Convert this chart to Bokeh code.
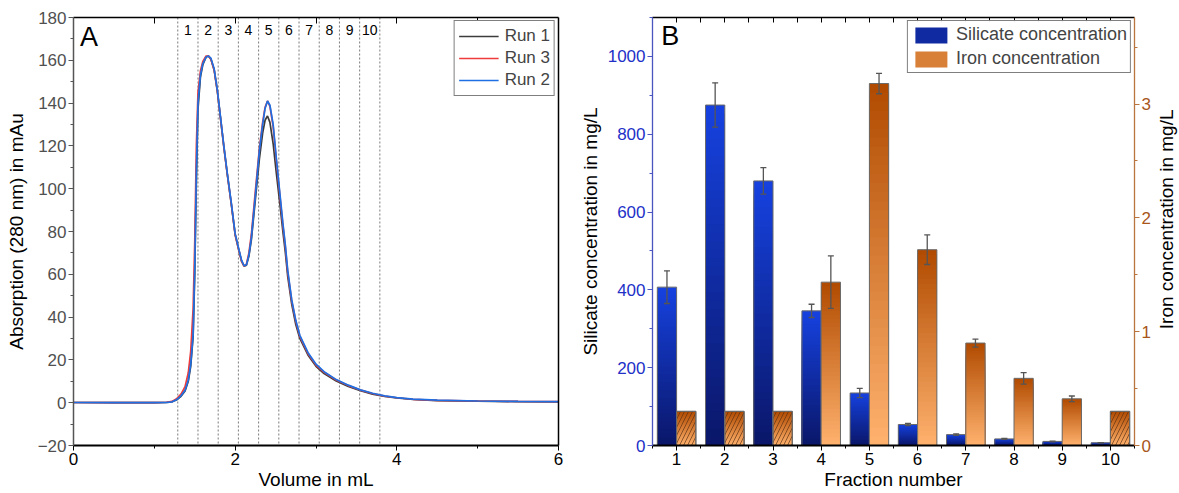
import math
import numpy as np
from bokeh.plotting import figure
from bokeh.models import (Range1d, LinearAxis, Span, Legend, LegendItem, Label,
                          Whisker, ColumnDataSource, FixedTicker, TeeHead)
from bokeh.layouts import row
from bokeh.embed import file_html
from bokeh.resources import INLINE
from bokeh.core.properties import value

FONT = "Liberation Sans"

# ---------------- Panel A data ----------------
volume = [0.0, 0.5, 1.0, 1.15, 1.22, 1.28, 1.33, 1.38, 1.42, 1.45, 1.48, 1.5, 1.52, 1.54, 1.57,
          1.6, 1.64, 1.67, 1.7, 1.74, 1.78, 1.82, 1.86, 1.9, 1.95, 2.0, 2.05, 2.08, 2.11, 2.14,
          2.17, 2.2, 2.25, 2.3, 2.34, 2.37, 2.4, 2.43, 2.47, 2.51, 2.55, 2.59, 2.62, 2.65, 2.7,
          2.75, 2.8, 2.9, 3.0, 3.1, 3.25, 3.4, 3.55, 3.7, 3.85, 4.0, 4.2, 4.5, 5.0, 5.5, 6.0]
run1 = [0.1, 0.0, 0.0, 0.1, 0.4, 1.4, 3.0, 5.5, 10, 17, 31, 60, 104, 137, 152,
        158, 161.5, 162, 160.5, 155.5, 145.5, 132.5, 119.5, 107.5, 93.5, 78.5, 70.5, 66, 63.8, 64.3,
        68.5, 76, 95, 114, 126, 132, 134, 131, 121, 107, 94, 80, 70.5, 59, 46,
        36.5, 30, 22.3, 17, 13.6, 10.1, 7.6, 5.6, 4.0, 2.9, 2.2, 1.5, 1.0, 0.7, 0.5, 0.4]
run3 = [0.1, 0.0, 0.0, 0.2, 0.6, 2.0, 4.0, 7.5, 14, 24, 44, 75, 120, 145, 155,
        159.5, 162, 162, 160.5, 155.5, 145.5, 132.5, 119.5, 107.5, 93.5, 78.5, 70.5, 66, 63.8, 64.8,
        70, 78.5, 99, 119, 131, 138, 141, 138.5, 129, 113, 98, 83, 73, 61, 47.5,
        38, 31, 23, 17.6, 14.2, 10.6, 8.0, 5.9, 4.3, 3.1, 2.3, 1.6, 1.1, 0.8, 0.6, 0.5]
run2 = [0.1, 0.0, 0.0, 0.1, 0.4, 1.5, 3.2, 5.8, 10.5, 18, 32, 63, 108, 140, 153,
        158.5, 161.5, 162, 161, 156, 146, 133, 120, 108, 94, 79, 71, 66.5, 64, 64.5,
        69, 77, 97, 118, 130, 137.5, 141, 139, 130, 114, 99, 84, 74, 62, 48,
        38.5, 31.5, 23.5, 18, 14.5, 10.8, 8.2, 6.0, 4.4, 3.2, 2.4, 1.7, 1.2, 0.8, 0.6, 0.5]
fraction_edges = [1.29, 1.54, 1.79, 2.04, 2.29, 2.54, 2.79, 3.04, 3.29, 3.54, 3.79]
fraction_labels = ["1", "2", "3", "4", "5", "6", "7", "8", "9", "10"]

# ---------------- Panel B data ----------------
fractions = [1, 2, 3, 4, 5, 6, 7, 8, 9, 10]
silicate = [407, 875, 680, 346, 135, 54, 28, 17, 10.5, 7]
silicate_err = [42, 57, 34, 17, 12, 3, 2, 1.5, 1, 0.5]
iron = [0.30, 0.30, 0.30, 1.435, 3.18, 1.72, 0.90, 0.59, 0.41, 0.30]
iron_err = [0, 0, 0, 0.23, 0.09, 0.13, 0.035, 0.05, 0.025, 0]
iron_below_lod = [True, True, True, False, False, False, False, False, False, True]

H = 492
TOP = 17
BOTTOM = 44

# ================= Panel A =================
pA = figure(width=575, height=H, x_range=Range1d(0, 6), y_range=Range1d(-20, 180),
            output_backend="svg", toolbar_location=None,
            min_border_left=73, min_border_right=17, min_border_top=TOP, min_border_bottom=BOTTOM)
pA.outline_line_color = None
pA.grid.visible = False

for loc in fraction_edges:
    pA.add_layout(Span(location=loc, dimension="height", line_color="#7a7a7a",
                       line_dash="2 2", line_width=1, level="underlay"))

mids = [(fraction_edges[i] + fraction_edges[i + 1]) / 2 for i in range(len(fraction_labels))]
pA.text(x=mids, y=[174.3] * len(mids), text=fraction_labels, text_font=value(FONT),
        text_font_size="14px", text_align="center", text_baseline="middle", text_color="black")

r1 = pA.line(volume, run1, line_color="#3c3c3c", line_width=1.7)
r3 = pA.line(volume, run3, line_color="#ee3b3b", line_width=1.7)
r2 = pA.line(volume, run2, line_color="#1f6fe3", line_width=1.7)

legA = Legend(items=[LegendItem(label="Run 1", renderers=[r1]),
                     LegendItem(label="Run 3", renderers=[r3]),
                     LegendItem(label="Run 2", renderers=[r2])],
              location="top_right", margin=3, padding=4, spacing=0,
              glyph_width=40, glyph_height=22, label_height=22, label_standoff=6,
              label_text_font=FONT, label_text_font_size="17px",
              border_line_color="black", border_line_width=1.5, background_fill_alpha=1)
pA.add_layout(legA)

pA.add_layout(Label(x=0.08, y=164, text="A", text_font=FONT, text_font_size="27px",
                    text_color="black"))

xa = pA.xaxis[0]
xa.ticker = FixedTicker(ticks=[0, 2, 4, 6], minor_ticks=[1, 3, 5])
xa.axis_label = "Volume in mL"
ya = pA.yaxis[0]
ya.ticker = FixedTicker(ticks=list(range(-20, 181, 20)), minor_ticks=list(range(-10, 181, 20)))
ya.axis_label = "Absorption (280 nm) in mAu"
for ax, col in ((xa, "black"), (ya, "#505050")):
    ax.major_label_text_font = FONT
    ax.major_label_text_font_size = "17px"
    ax.major_label_text_color = col
    ax.axis_label_text_font = FONT
    ax.axis_label_text_font_size = "19px"
    ax.axis_label_text_font_style = "normal"
    ax.axis_label_text_color = "black"
    ax.major_tick_out = 5
    ax.major_tick_in = 0
    ax.minor_tick_out = 3
    ax.minor_tick_in = 0
    ax.major_label_standoff = 2
    ax.axis_label_standoff = 1
ya.axis_label_standoff = 8
xa.axis_line_width = 2
xa.axis_line_color = "black"
ya.axis_line_width = 1.5
ya.axis_line_color = "#555555"
ya.major_tick_line_color = "#555555"
ya.minor_tick_line_color = "#555555"

topA = LinearAxis(ticker=FixedTicker(ticks=[], minor_ticks=[1, 2, 3, 4, 5]),
                  minor_tick_in=6, minor_tick_out=0, major_tick_in=0, major_tick_out=0,
                  axis_line_width=1.5)
pA.add_layout(topA, "above")
rightA = LinearAxis(ticker=FixedTicker(ticks=[], minor_ticks=[]),
                    minor_tick_in=0, minor_tick_out=0, major_tick_in=0, major_tick_out=0,
                    axis_line_width=1.5)
pA.add_layout(rightA, "right")

# ================= Panel B =================
pB = figure(width=578, height=H, x_range=Range1d(0.5, 10.5), y_range=Range1d(0, 1100),
            output_backend="svg", toolbar_location=None,
            min_border_left=77, min_border_right=16, min_border_top=TOP, min_border_bottom=BOTTOM)
pB.extra_y_ranges = {"iron": Range1d(0, 3.76)}
pB.outline_line_color = None
pB.grid.visible = False


def mix(c1, c2, f):
    a = [int(c1[i:i + 2], 16) for i in (1, 3, 5)]
    b = [int(c2[i:i + 2], 16) for i in (1, 3, 5)]
    return "#%02x%02x%02x" % tuple(int(round(a[j] + (b[j] - a[j]) * f)) for j in range(3))


N_SLICES = 40


def gradient(xc, vals, half, c_bottom, c_top, n=N_SLICES):
    d = dict(left=[], right=[], bottom=[], top=[], color=[])
    for x, v in zip(xc, vals):
        for k in range(n, 0, -1):
            d["left"].append(x - half)
            d["right"].append(x + half)
            d["bottom"].append(0)
            d["top"].append(v * k / n)
            d["color"].append(mix(c_bottom, c_top, (k - 0.5) / n))
    return d


BAR_W = 0.4
sil_x = [f - BAR_W / 2 for f in fractions]
iro_x = [f + BAR_W / 2 for f in fractions]

gs = gradient(sil_x, silicate, BAR_W / 2, "#0a1668", "#1642e0")
rs = pB.quad(left="left", right="right", bottom="bottom", top="top", fill_color="color",
             line_color=None, source=ColumnDataSource(gs))
pB.quad(left=[x - BAR_W / 2 for x in sil_x], right=[x + BAR_W / 2 for x in sil_x],
        bottom=0, top=silicate, fill_color=None, line_color="#6a6a6a", line_width=1)

gi = gradient(iro_x, iron, BAR_W / 2, "#ffb26e", "#b04a00")
ri = pB.quad(left="left", right="right", bottom="bottom", top="top", fill_color="color",
             line_color=None, source=ColumnDataSource(gi), y_range_name="iron")
pB.quad(left=[x - BAR_W / 2 for x in iro_x], right=[x + BAR_W / 2 for x in iro_x],
        bottom=0, top=iron, fill_color=None, line_color="#6a6a6a", line_width=1,
        y_range_name="iron")
lod_x = [x for x, m in zip(iro_x, iron_below_lod) if m]
lod_v = [v for v, m in zip(iron, iron_below_lod) if m]
pB.quad(left=[x - BAR_W / 2 for x in lod_x], right=[x + BAR_W / 2 for x in lod_x],
        bottom=0, top=lod_v, fill_color=None, line_color="#6a6a6a", line_width=1,
        hatch_pattern="/", hatch_color="#5a3010", hatch_alpha=0.85, hatch_scale=8,
        hatch_weight=0.8, y_range_name="iron")

sil_src = ColumnDataSource(dict(x=sil_x, lo=[v - e for v, e in zip(silicate, silicate_err)],
                                hi=[v + e for v, e in zip(silicate, silicate_err)]))
pB.add_layout(Whisker(base="x", lower="lo", upper="hi", source=sil_src, line_color="#555555",
                      line_width=1.3, level="annotation",
                      upper_head=TeeHead(size=6, line_color="#555555", line_width=1.3),
                      lower_head=TeeHead(size=6, line_color="#555555", line_width=1.3)))
ie = [(x, v, e) for x, v, e in zip(iro_x, iron, iron_err) if e > 0]
iro_src = ColumnDataSource(dict(x=[t[0] for t in ie], lo=[t[1] - t[2] for t in ie],
                                hi=[t[1] + t[2] for t in ie]))
pB.add_layout(Whisker(base="x", lower="lo", upper="hi", source=iro_src, line_color="#555555",
                      line_width=1.3, level="annotation", y_range_name="iron",
                      upper_head=TeeHead(size=6, line_color="#555555", line_width=1.3),
                      lower_head=TeeHead(size=6, line_color="#555555", line_width=1.3)))

legB = Legend(items=[LegendItem(label="Silicate concentration", renderers=[rs], index=N_SLICES // 2),
                     LegendItem(label="Iron concentration", renderers=[ri], index=N_SLICES // 2)],
              location="top_right", margin=3, padding=3, spacing=3,
              glyph_width=40, glyph_height=20, label_height=20, label_standoff=5,
              label_text_font=FONT, label_text_font_size="18px",
              border_line_color="black", border_line_width=1.5)
pB.add_layout(legB)

pB.add_layout(Label(x=0.68, y=1014, text="B", text_font=FONT, text_font_size="27px",
                    text_color="black"))

BLUE = "#2230c8"
BROWN = "#a8561a"
xb = pB.xaxis[0]
xb.ticker = FixedTicker(ticks=fractions, minor_ticks=[f + 0.5 for f in [0] + fractions])
xb.axis_label = "Fraction number"
yb = pB.yaxis[0]
yb.ticker = FixedTicker(ticks=list(range(0, 1001, 200)), minor_ticks=list(range(100, 1101, 200)))
yb.axis_label = "Silicate concentration in mg/L"
rightB = LinearAxis(y_range_name="iron",
                    ticker=FixedTicker(ticks=[0, 1, 2, 3], minor_ticks=[0.5, 1.5, 2.5, 3.5]))
pB.add_layout(rightB, "right")
for ax, col, lcol in ((xb, "black", "black"), (yb, BLUE, "#4a55c0"), (rightB, BROWN, "#b8753f")):
    ax.major_label_text_font = FONT
    ax.major_label_text_font_size = "17px"
    ax.major_label_text_color = col
    ax.axis_label_text_font = FONT
    ax.axis_label_text_font_size = "19px"
    ax.axis_label_text_font_style = "normal"
    ax.axis_label_text_color = "black"
    ax.major_tick_out = 5
    ax.major_tick_in = 0
    ax.minor_tick_out = 3
    ax.minor_tick_in = 0
    ax.major_label_standoff = 2
    ax.axis_label_standoff = 1
    ax.axis_line_color = lcol
    ax.major_tick_line_color = lcol
    ax.minor_tick_line_color = lcol
    ax.axis_line_width = 1.3
xb.axis_line_width = 2
yb.axis_label_standoff = 4

topB = LinearAxis(ticker=FixedTicker(ticks=[], minor_ticks=[f / 2 for f in range(1, 21)]),
                  minor_tick_in=5, minor_tick_out=0, major_tick_in=0, major_tick_out=0,
                  axis_line_width=1.5)
pB.add_layout(topB, "above")

# ---- narrow strip carrying the right-hand axis title (reads bottom-to-top) ----
pC = figure(width=26, height=H, x_range=Range1d(0, 1), y_range=Range1d(0, 1),
            x_axis_type=None, y_axis_type=None, output_backend="svg", toolbar_location=None,
            min_border_left=0, min_border_right=0, min_border_top=0, min_border_bottom=0)
pC.outline_line_color = None
pC.grid.visible = False
pC.text(x=[0.5], y=[1 - 232 / H], text=["Iron concentration in mg/L"], angle=math.pi / 2,
        text_align="center", text_baseline="middle", text_font=value(FONT),
        text_font_size="19px", text_color="black")

layout = row(pA, pB, pC)
open("out.html", "w").write(file_html(layout, INLINE))
